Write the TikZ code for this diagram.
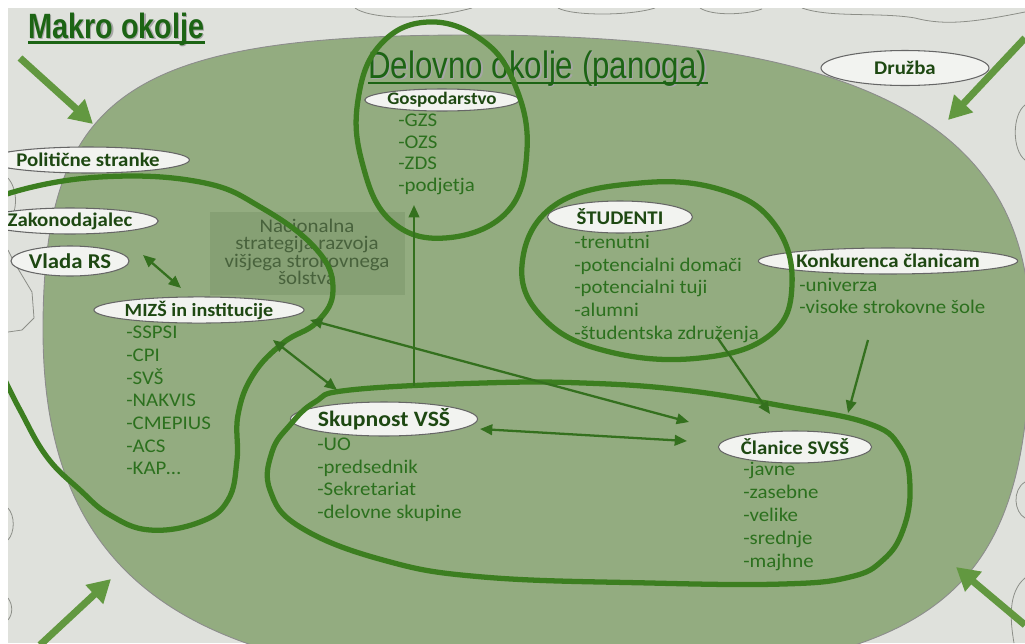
\documentclass[tikz,border=0pt]{standalone}
\usepackage{fontspec}
\setmainfont[FakeStretch=1.08]{Carlito}
\newfontfamily\narrowfont[FakeStretch=0.82]{Liberation Sans}
\usetikzlibrary{shapes.geometric,arrows.meta}
\definecolor{bgc}{RGB}{223,225,220}
\definecolor{areac}{RGB}{147,172,128}
\definecolor{loopc}{RGB}{60,126,32}
\definecolor{arrowc}{RGB}{52,112,30}
\definecolor{bigarrc}{RGB}{98,152,64}
\definecolor{labelc}{RGB}{30,72,18}
\definecolor{listc}{RGB}{44,112,30}
\definecolor{titlec}{RGB}{28,100,20}
\definecolor{natc}{RGB}{134,160,116}
\definecolor{nattext}{RGB}{72,98,60}
\definecolor{mapc}{RGB}{140,142,135}
\definecolor{ellfill}{RGB}{242,243,240}
\tikzset{
  lbl/.style={ellipse, fill=ellfill, draw=black!60, line width=0.6pt, inner sep=0pt,
    font=\bfseries\fontsize{11}{13}\selectfont, text=labelc},
  lst/.style={anchor=north west, align=left, inner sep=0pt, text=listc},
  loopline/.style={draw=loopc, line width=3pt},
  conn/.style={draw=arrowc, line width=1.3pt, -{Triangle[length=7pt,width=6pt]}},
  conntwo/.style={draw=arrowc, line width=1.3pt, {Triangle[length=7pt,width=6pt]}-{Triangle[length=7pt,width=6pt]}},
  bigarrow/.style={draw=bigarrc, line width=4pt, -{Triangle[length=13pt,width=14pt]}},
  mapline/.style={draw=mapc, line width=0.45pt},
  titletext/.style={inner sep=0pt, anchor=base west, text=titlec},
  shadowtext/.style={inner sep=0pt, anchor=base west, text=black!35},
}
\begin{document}
\begin{tikzpicture}[x=0.02cm, y=-0.02cm]
\useasboundingbox (0,0) rectangle (1025,643);
\fill[white] (0,0) rectangle (1025,643);
\begin{scope}
\clip (8,8) rectangle (1025,643);
\fill[bgc] (8,8) rectangle (1025,643);
% background map outlines
\draw[mapline] (355,8) .. controls (368,18) and (420,22) .. (472,8);
\draw[mapline] (558,8) .. controls (572,16) and (630,16) .. (655,8);
\draw[mapline] (700,8) .. controls (712,16) and (745,15) .. (762,9);
\draw[mapline] (802,8) .. controls (830,18) and (880,12) .. (915,18) .. controls (945,26) and (975,22) .. (1025,12);
\draw[mapline] (1025,105) .. controls (1012,115) and (1012,150) .. (1025,160);
\draw[mapline] (1025,482) .. controls (1012,490) and (1014,512) .. (1025,518);
\draw[mapline] (1025,578) .. controls (1008,592) and (1010,620) .. (1014,643);
\draw[mapline] (8,178) .. controls (18,190) and (18,210) .. (8,226);
\draw[mapline] (8,250) -- (14,262) -- (32,292) -- (34,318) -- (22,330) -- (8,332);
\draw[mapline] (8,508) .. controls (15,516) and (15,532) .. (8,540);
\draw[mapline] (8,598) .. controls (13,605) and (13,614) .. (8,620);
% green area
\fill[areac, draw=black!45, line width=0.5pt] (43,330)
  .. controls (43,94) and (128,35) .. (470,35)
  .. controls (862,35) and (1030,124) .. (1030,330)
  .. controls (1030,610) and (928,680) .. (520,680)
  .. controls (186,680) and (43,575) .. (43,330) -- cycle;
% national strategy box
\node[fill=natc, minimum width=3.9cm, minimum height=1.66cm, inner sep=0pt] (nat) at (307.5,253.5) {};
\node[align=center, inner sep=0pt, text=nattext, font=\fontsize{11}{9.9}\selectfont] (natt) at (307,252) {Nacionalna\\strategija razvoja\\višjega strokovnega\\šolstva};
% titles
\node[shadowtext, font=\narrowfont\bfseries\fontsize{20}{24}\selectfont] at (29.5,39.5) {Makro okolje};
\node[titletext, font=\narrowfont\bfseries\fontsize{20}{24}\selectfont] (makro) at (28,38) {Makro okolje};
\draw[draw=titlec, line width=1.3pt] ([yshift=-2.6pt]makro.base west) -- ([yshift=-2.6pt]makro.base east);
\node[shadowtext, font=\narrowfont\fontsize{21.7}{26}\selectfont] at (369.5,79.5) {Delovno okolje (panoga)};
\node[titletext, font=\narrowfont\fontsize{21.7}{26}\selectfont] (delovno) at (368,78) {Delovno okolje (panoga)};
\draw[draw=titlec, line width=1.1pt] ([yshift=-3pt]delovno.base west) -- ([yshift=-3pt]delovno.base east);
% labels
\node[lbl, minimum width=3.36cm, minimum height=0.7cm] (druzba) at (905,68) {Družba};
\node[lbl, minimum width=3.24cm, minimum height=0.52cm] (politicne) at (88,160) {Politične stranke};
\node[lbl, minimum width=3.3cm, minimum height=0.52cm] (zakon) at (70,221) {Zakonodajalec};
\node[lbl, minimum width=2.36cm, minimum height=0.6cm, font=\bfseries\fontsize{12}{14}\selectfont] (vlada) at (70,261) {Vlada RS};
\node[lbl, minimum width=3.9cm, minimum height=0.52cm, font=\bfseries\fontsize{10.6}{13}\selectfont] (mizs) at (199,310) {MIZŠ in institucije};
\node[lbl, minimum width=2.36cm, minimum height=0.44cm, font=\bfseries\fontsize{10}{12}\selectfont] (gosp) at (442,100) {Gospodarstvo};
\node[lbl, minimum width=2.9cm, minimum height=0.64cm] (stud) at (620,217) {ŠTUDENTI};
\node[lbl, minimum width=4.5cm, minimum height=0.52cm] (konk) at (888,261) {Konkurenca članicam};
\node[lbl, minimum width=3.44cm, minimum height=0.68cm, font=\bfseries\fontsize{12.5}{15}\selectfont] (skup) at (384,419) {Skupnost VSŠ};
\node[lbl, minimum width=2.9cm, minimum height=0.64cm] (clan) at (795,447) {Članice SVSŠ};
% lists
\node[lst, font=\fontsize{11}{12.2}\selectfont] (gospl) at (398,114) {-GZS\\-OZS\\-ZDS\\-podjetja};
\node[lst, font=\fontsize{11}{12.9}\selectfont] (studl) at (574,235) {-trenutni\\-potencialni domači\\-potencialni tuji\\-alumni\\-študentska združenja};
\node[lst, font=\fontsize{11}{12.4}\selectfont] (konkl) at (799,278) {-univerza\\-visoke strokovne šole};
\node[lst, font=\fontsize{11}{12.9}\selectfont] (mizsl) at (126,326) {-SSPSI\\-CPI\\-SVŠ\\-NAKVIS\\-CMEPIUS\\-ACS\\-KAP\dots};
\node[lst, font=\fontsize{11}{12.8}\selectfont] (skupl) at (317,438) {-UO\\-predsednik\\-Sekretariat\\-delovne skupine};
\node[lst, font=\fontsize{11}{13}\selectfont] (clanl) at (743,462) {-javne\\-zasebne\\-velike\\-srednje\\-majhne};
% loops
\draw[loopline] plot[smooth cycle, tension=0.7] coordinates {(428,22) (482,40) (515,85) (527,150) (507,212) (445,238) (390,220) (362,162) (358,100) (380,45)};
\draw[loopline] plot[smooth cycle, tension=0.7] coordinates {(640,183) (722,190) (775,225) (792,285) (770,335) (700,358) (610,352) (545,320) (522,265) (555,205)};
\draw[loopline] plot[smooth, tension=0.7] coordinates {(-10,210) (10,193) (100,177) (200,182) (262,208) (317,250) (333,290) (317,322) (283,343) (253,375) (238,415) (237,460) (228,500) (200,522) (150,530) (110,515) (80,490) (47,457) (20,410) (0,370) (-10,350)};
\draw[loopline] plot[smooth cycle, tension=0.7] coordinates {(350,390) (483,383) (583,383) (683,390) (783,406) (867,423) (900,447) (910,487) (903,530) (883,560) (850,577) (783,584) (650,583) (483,577) (383,560) (300,527) (270,490) (272,452) (290,425) (315,402)};
% connectors
\coordinate (v1) at (143,255);
\coordinate (m1) at (181,288);
\coordinate (m2) at (273,340);
\coordinate (s1) at (337,390);
\coordinate (m3) at (310,320);
\coordinate (c1) at (689,422);
\coordinate (s2) at (480,429);
\coordinate (c2) at (687,441);
\coordinate (s3) at (414,386);
\coordinate (g1) at (414,205);
\coordinate (st1) at (717,337);
\coordinate (c3) at (770,414);
\coordinate (k1) at (868,340);
\coordinate (c4) at (848,413);
\draw[conntwo] (v1) -- (m1);
\draw[conntwo] (m2) -- (s1);
\draw[conntwo] (m3) -- (c1);
\draw[conntwo] (s2) -- (c2);
\draw[conn] (s3) -- (g1);
\draw[conn] (st1) -- (c3);
\draw[conn] (k1) -- (c4);
% big arrows
\coordinate (a1s) at (20,58);
\coordinate (a1e) at (93,124);
\coordinate (a2s) at (1025,38);
\coordinate (a2e) at (948,120);
\coordinate (a3s) at (40,645);
\coordinate (a3e) at (111,579);
\coordinate (a4s) at (1025,625);
\coordinate (a4e) at (956,567);
\draw[bigarrow] (a1s) -- (a1e);
\draw[bigarrow] (a2s) -- (a2e);
\draw[bigarrow] (a3s) -- (a3e);
\draw[bigarrow] (a4s) -- (a4e);
\end{scope}
\end{tikzpicture}
\end{document}
